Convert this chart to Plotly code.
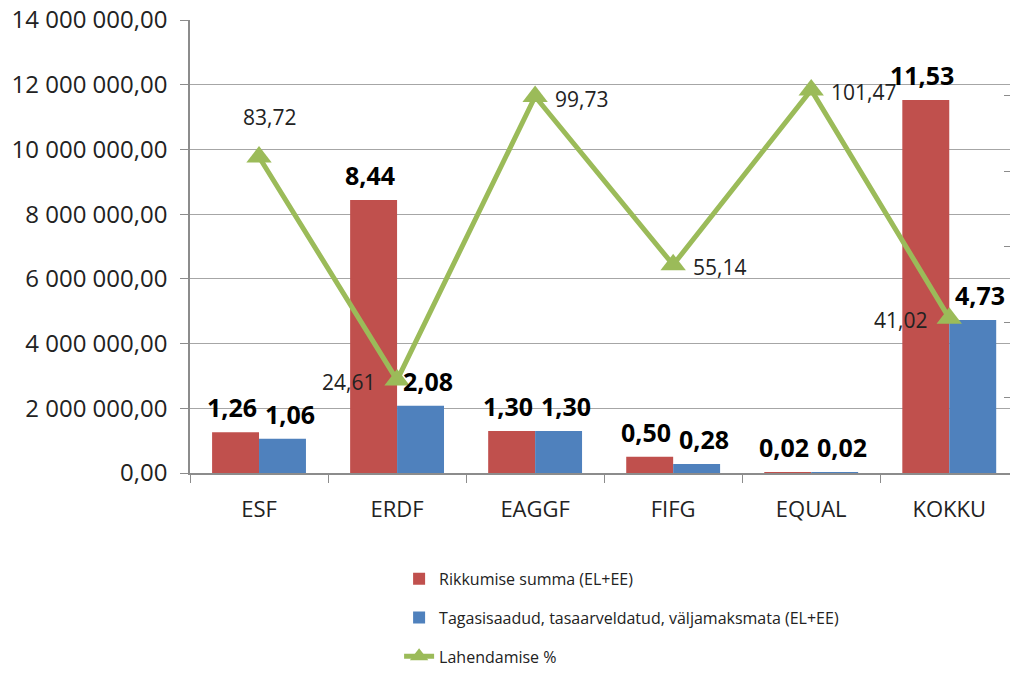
import plotly.graph_objects as go

categories = ["ESF", "ERDF", "EAGGF", "FIFG", "EQUAL", "KOKKU"]
rikkumise = [1.26e6, 8.44e6, 1.30e6, 0.50e6, 0.02e6, 11.53e6]
tagasi = [1.06e6, 2.08e6, 1.30e6, 0.28e6, 0.02e6, 4.73e6]
lahendamise = [83.72, 24.61, 99.73, 55.14, 101.47, 41.02]
line_label_side = ["top", "left", "right", "right", "right", "left"]

def mfmt(v):
    return f"{v/1e6:.2f}".replace(".", ",")

def pfmt(v):
    return f"{v:.2f}".replace(".", ",")

FONT = "Open Sans"
RED = "#C0504D"
BLUE = "#4F81BD"
GREEN = "#9BBB59"

fig = go.Figure()
fig.add_trace(go.Bar(
    x=categories, y=rikkumise, name="Rikkumise summa (EL+EE)",
    marker=dict(color=RED, line=dict(width=0)),
    legendgroup="a",
))
fig.add_trace(go.Bar(
    x=categories, y=tagasi, name="Tagasisaadud, tasaarveldatud, väljamaksmata (EL+EE)",
    marker=dict(color=BLUE, line=dict(width=0)),
    legendgroup="b",
))
fig.add_trace(go.Scatter(
    x=categories, y=lahendamise, name="Lahendamise %", yaxis="y2",
    mode="lines+markers",
    line=dict(color=GREEN, width=5),
    marker=dict(symbol="triangle-up", size=22, color=GREEN),
    cliponaxis=False, legendgroup="c",
))

bar_font = dict(family=FONT, size=25, color="black", weight="bold")
for c, v in zip(categories, rikkumise):
    fig.add_annotation(x=c, y=v, xref="x", yref="y", text=mfmt(v), showarrow=False,
                       xanchor="center", yanchor="bottom", xshift=-27, yshift=6, font=bar_font)
for c, v in zip(categories, tagasi):
    fig.add_annotation(x=c, y=v, xref="x", yref="y", text=mfmt(v), showarrow=False,
                       xanchor="center", yanchor="bottom", xshift=31, yshift=6, font=bar_font)

line_font = dict(family=FONT, size=21, color="#222")
for c, v, side in zip(categories, lahendamise, line_label_side):
    if side == "top":
        kw = dict(xanchor="center", yanchor="middle", xshift=10, yshift=40)
    elif side == "left":
        kw = dict(xanchor="right", yanchor="middle", xshift=-20, yshift=-2)
    else:
        kw = dict(xanchor="left", yanchor="middle", xshift=18, yshift=-2)
    fig.add_annotation(x=c, y=v, xref="x", yref="y2", text=pfmt(v), showarrow=False,
                       font=line_font, **kw)

fig.update_layout(
    width=1010, height=675,
    margin=dict(l=190, r=0, t=20, b=202, autoexpand=False),
    paper_bgcolor="white", plot_bgcolor="white",
    separators=", ",
    barmode="group", bargap=0.32, bargroupgap=0,
    font=dict(family=FONT, color="#222"),
    xaxis=dict(
        type="category", range=[-0.5, 5.44], automargin=False,
        showline=True, linecolor="#8c8c8c", linewidth=1.5,
        ticks="outside", tickson="boundaries", ticklen=8, tickcolor="#8c8c8c",
        tickfont=dict(family=FONT, size=22, color="#222"),
        ticklabelstandoff=16,
        showgrid=False,
    ),
    yaxis=dict(
        range=[0, 14e6], dtick=2e6, tickformat=",.2f", automargin=False,
        showline=True, linecolor="#8c8c8c", linewidth=1.5,
        ticks="outside", ticklen=8, tickcolor="#8c8c8c",
        showgrid=True, gridcolor="#a6a6a6", gridwidth=1.2,
        tickfont=dict(family=FONT, size=24, color="#222"),
        ticklabelstandoff=8, ticklabeloverflow="allow",
        zeroline=False,
    ),
    yaxis2=dict(
        range=[0, 120], dtick=20, overlaying="y", side="right", automargin=False,
        showgrid=False, showticklabels=False, ticks="inside", ticklen=6,
        tickcolor="#8c8c8c", zeroline=False, showline=False,
    ),
    legend=dict(
        orientation="v", x=0.255, xanchor="left", y=-0.196, yanchor="top",
        font=dict(family=FONT, size=16, color="#222"),
        tracegroupgap=15, bgcolor="rgba(0,0,0,0)",
    ),
    showlegend=True,
)

fig.write_html("out.html",
               config={"displayModeBar": False},
               post_script="document.body.style.margin='0';document.body.style.overflow='hidden';")
